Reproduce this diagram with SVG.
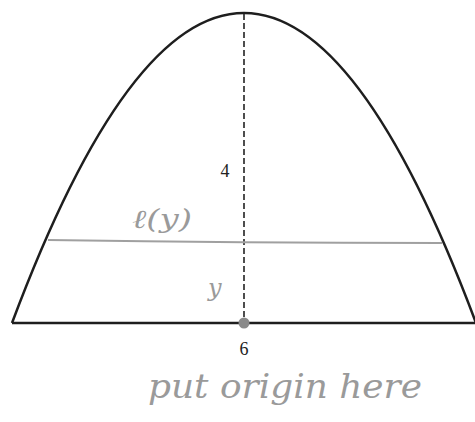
<svg xmlns="http://www.w3.org/2000/svg" width="475" height="422" viewBox="0 0 475 422">
<style>
.curve{fill:none;stroke:#1e1e1e;stroke-width:2.5}
.hand{fill:#9a9a9a;font-family:"DejaVu Serif","Liberation Serif",serif;font-style:italic}
.num{fill:#222;font-family:"Liberation Serif",serif}
</style>
<rect width="475" height="422" fill="#fff"/>
<g id="region">
<path class="curve" d="M12,323 Q244,-297 476,323"/>
<line class="curve" x1="12" y1="323" x2="475" y2="323"/>
</g>
<g id="connectors">
<line x1="244" y1="14" x2="244" y2="323" stroke="#222" stroke-width="1.6" stroke-dasharray="6,3"/>
<path d="M48,240 Q240,243 442,243" fill="none" stroke="#a0a0a0" stroke-width="1.8"/>
</g>
<g id="origin">
<circle cx="244" cy="323" r="5.5" fill="#8a8a8a"/>
</g>
<g id="labels">
<text class="num" x="225" y="177" font-size="18" text-anchor="middle">4</text>
<text class="num" x="244" y="355" font-size="18" text-anchor="middle">6</text>
<text class="hand" x="132" y="228" font-size="26" textLength="60" lengthAdjust="spacingAndGlyphs">ℓ(y)</text>
<text class="hand" x="208" y="296" font-size="24">y</text>
<text class="hand" x="148" y="398" font-size="34" textLength="274" lengthAdjust="spacingAndGlyphs">put origin here</text>
</g>
</svg>
